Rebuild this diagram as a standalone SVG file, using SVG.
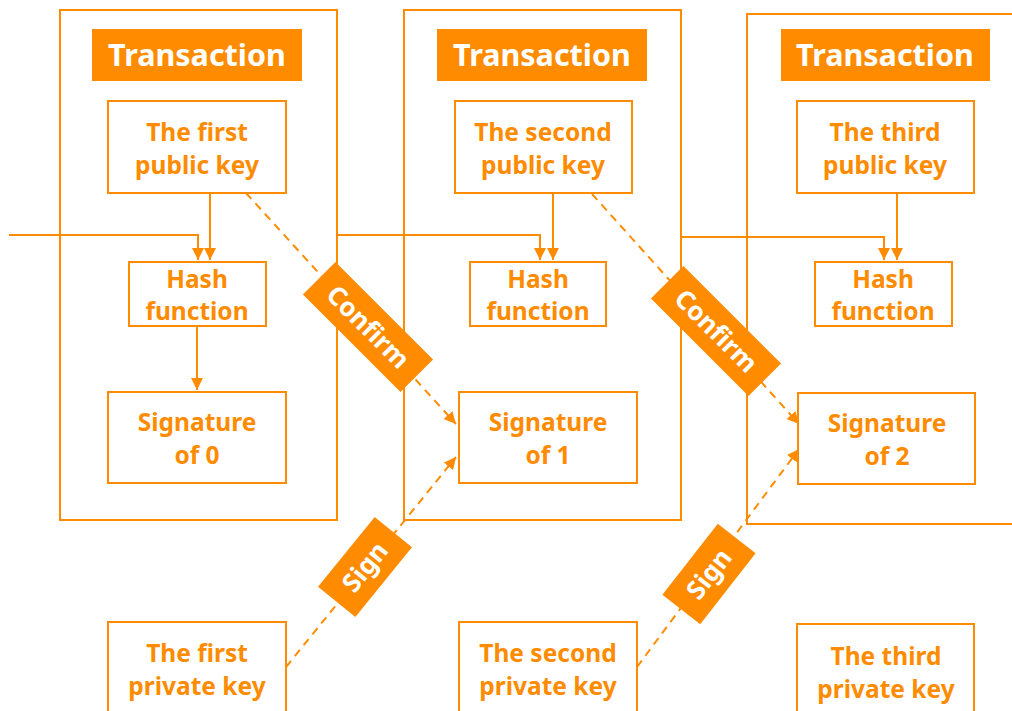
<svg xmlns="http://www.w3.org/2000/svg" width="1012" height="711" viewBox="0 0 1012 711">
<defs>
<style>
.frame{fill:none;stroke:#FF8C00;stroke-width:2}
.box{fill:#fff;stroke:#FF8C00;stroke-width:2}
.title{fill:#FF8C00}
.tt{fill:#fff;font-family:"Noto Sans","Open Sans",sans-serif;font-weight:bold;font-size:30.5px;text-anchor:middle}
.bt{fill:#FF8C00;font-family:"Noto Sans","Open Sans",sans-serif;font-weight:bold;font-size:24.5px;text-anchor:middle}
.ln{fill:none;stroke:#FF8C00;stroke-width:2}
.dash{fill:none;stroke:#FF8C00;stroke-width:2;stroke-dasharray:8 6}
.lab{fill:#FF8C00}
.lt{fill:#fff;font-family:"Noto Sans","Open Sans",sans-serif;font-weight:bold;font-size:26px;text-anchor:middle}
</style>
<marker id="ah2" viewBox="0 0 10 10" refX="10" refY="5" markerWidth="6" markerHeight="6" orient="auto">
<path d="M0,0 L10,5 L0,10 z" fill="#FF8C00"/>
</marker>
</defs>
<rect width="1012" height="711" fill="#fff"/>

<g id="tx1">
<rect class="frame" x="60" y="10" width="277" height="510"/>
<rect class="title" x="92" y="29" width="210" height="52"/>
<text class="tt" x="197" y="66">Transaction</text>
</g>
<g id="tx2">
<rect class="frame" x="404" y="10" width="277" height="510"/>
<rect class="title" x="437" y="29" width="210" height="52"/>
<text class="tt" x="542" y="66">Transaction</text>
</g>
<g id="tx3">
<rect class="frame" x="747" y="14" width="280" height="510"/>
<rect class="title" x="781" y="29" width="209" height="52"/>
<text class="tt" x="885" y="66">Transaction</text>
</g>

<g id="connectors">
<polyline class="ln" points="9,235 198,235 198,260" marker-end="url(#ah2)"/>
<line class="ln" x1="210" y1="193" x2="210" y2="260" marker-end="url(#ah2)"/>
<line class="ln" x1="197" y1="326" x2="197" y2="390" marker-end="url(#ah2)"/>
<polyline class="ln" points="337,235 540,235 540,260" marker-end="url(#ah2)"/>
<line class="ln" x1="553" y1="193" x2="553" y2="260" marker-end="url(#ah2)"/>
<polyline class="ln" points="681,237 884,237 884,260" marker-end="url(#ah2)"/>
<line class="ln" x1="897" y1="193" x2="897" y2="260" marker-end="url(#ah2)"/>
<line class="dash" x1="246" y1="193" x2="456" y2="424" marker-end="url(#ah2)"/>
<line class="dash" x1="592" y1="194" x2="799" y2="424" marker-end="url(#ah2)"/>
<line class="dash" x1="286" y1="667" x2="456" y2="457" marker-end="url(#ah2)"/>
<line class="dash" x1="637" y1="667" x2="799" y2="449" marker-end="url(#ah2)"/>
</g>

<g id="pub1"><rect class="box" x="108" y="101" width="178" height="92"/>
<text class="bt" x="197" y="141">The first</text><text class="bt" x="197" y="174">public key</text></g>
<g id="pub2"><rect class="box" x="455" y="101" width="177" height="92"/>
<text class="bt" x="543" y="141">The second</text><text class="bt" x="543" y="174">public key</text></g>
<g id="pub3"><rect class="box" x="797" y="101" width="177" height="92"/>
<text class="bt" x="885" y="141">The third</text><text class="bt" x="885" y="174">public key</text></g>

<g id="hash1"><rect class="box" x="129" y="262" width="137" height="64"/>
<text class="bt" x="197" y="288">Hash</text><text class="bt" x="197" y="320">function</text></g>
<g id="hash2"><rect class="box" x="470" y="262" width="136" height="64"/>
<text class="bt" x="538" y="288">Hash</text><text class="bt" x="538" y="320">function</text></g>
<g id="hash3"><rect class="box" x="815" y="262" width="137" height="64"/>
<text class="bt" x="883" y="288">Hash</text><text class="bt" x="883" y="320">function</text></g>

<g id="sig0"><rect class="box" x="108" y="392" width="178" height="91"/>
<text class="bt" x="197" y="431">Signature</text><text class="bt" x="197" y="464">of 0</text></g>
<g id="sig1"><rect class="box" x="459" y="392" width="178" height="91"/>
<text class="bt" x="548" y="431">Signature</text><text class="bt" x="548" y="464">of 1</text></g>
<g id="sig2"><rect class="box" x="798" y="393" width="177" height="91"/>
<text class="bt" x="887" y="432">Signature</text><text class="bt" x="887" y="465">of 2</text></g>

<g id="priv1"><rect class="box" x="108" y="622" width="178" height="100"/>
<text class="bt" x="197" y="662">The first</text><text class="bt" x="197" y="695">private key</text></g>
<g id="priv2"><rect class="box" x="459" y="622" width="178" height="100"/>
<text class="bt" x="548" y="662">The second</text><text class="bt" x="548" y="695">private key</text></g>
<g id="priv3"><rect class="box" x="797" y="624" width="177" height="100"/>
<text class="bt" x="886" y="665">The third</text><text class="bt" x="886" y="698">private key</text></g>

<g id="confirm1" transform="translate(368,327) rotate(45)">
<rect class="lab" x="-69" y="-23" width="138" height="46"/>
<text class="lt" x="0" y="9">Confirm</text></g>
<g id="confirm2" transform="translate(716,331) rotate(45)">
<rect class="lab" x="-69" y="-23" width="138" height="46"/>
<text class="lt" x="0" y="9">Confirm</text></g>
<g id="sign1" transform="translate(365,567) rotate(-51)">
<rect class="lab" x="-45" y="-24" width="90" height="48"/>
<text class="lt" x="0" y="9">Sign</text></g>
<g id="sign2" transform="translate(709,574) rotate(-52)">
<rect class="lab" x="-45" y="-24" width="90" height="48"/>
<text class="lt" x="0" y="9">Sign</text></g>
</svg>
